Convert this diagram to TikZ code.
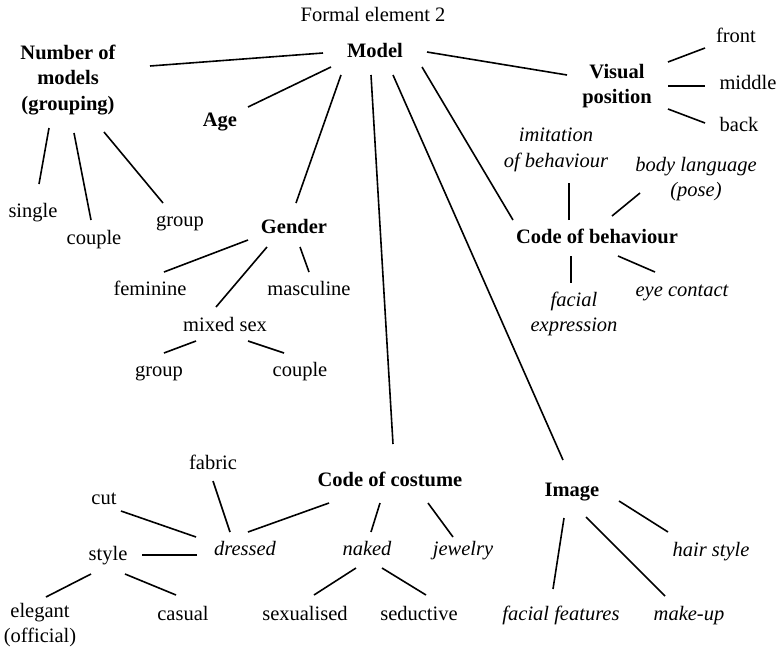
\documentclass[tikz,border=0pt]{standalone}
\usepackage{fontspec}
\setmainfont{Liberation Serif}
\usepackage{tikz}
\usetikzlibrary{calc}
\usetikzlibrary{positioning}

\tikzset{
	elem/.style={inner sep=0pt, text height=14pt, text depth=5pt, font=\fontsize{20.5}{25.5}\selectfont},
	elemb/.style={elem, font=\fontsize{20.5}{25.5}\selectfont\bfseries},
	elemi/.style={elem, font=\fontsize{20.5}{25.5}\selectfont\itshape},
	multi/.style={inner sep=0pt, align=center, font=\fontsize{20.5}{25.5}\selectfont},
	multib/.style={multi, font=\fontsize{20.5}{25.5}\selectfont\bfseries},
	multii/.style={multi, font=\fontsize{20.5}{25.5}\selectfont\itshape},
	link/.style={line width=1.6pt}
}

\begin{document}
\begin{tikzpicture}[x=1pt, y=-1pt]

	\useasboundingbox (0,0) rectangle (779,651);

	% title and root
	\node(title) [elem] at (373,17) {Formal element 2};
	\node(model) [elemb] at (375,53) {Model};

	% number of models
	\node(number) [multib] at (68,80) {Number of\\models\\(grouping)};
	\node(single) [elem] at (33,213) {single};
	\node(couplea) [elem] at (94,240) {couple};
	\node(groupa) [elem] at (180,222) {group};

	\node(age) [elemb] at (220,122) {Age};

	% gender
	\node(gender) [elemb] at (294,229) {Gender};
	\node(feminine) [elem] at (150,291) {feminine};
	\node(masculine) [elem] at (309,291) {masculine};
	\node(mixed) [elem] at (225,327) {mixed sex};
	\node(groupb) [elem] at (159,372) {group};
	\node(coupleb) [elem] at (300,372) {couple};

	% visual position
	\node(visual) [multib] at (617,86) {Visual\\position};
	\node(front) [elem] at (736,38) {front};
	\node(middle) [elem] at (748,85) {middle};
	\node(back) [elem] at (739,127) {back};

	% code of behaviour
	\node(behaviour) [elemb] at (597,239) {Code of behaviour};
	\node(imitation) [multii] at (556,150) {imitation\\of behaviour};
	\node(body) [multii] at (696,179) {body language\\(pose)};
	\node(facialexp) [multii] at (574,314) {facial\\expression};
	\node(eye) [elemi] at (682,292) {eye contact};

	% code of costume
	\node(costume) [elemb] at (390,482) {Code of costume};
	\node(fabric) [elem] at (213,465) {fabric};
	\node(cut) [elem] at (104,500) {cut};
	\node(dressed) [elemi] at (245,551) {dressed};
	\node(style) [elem] at (108,556) {style};
	\node(naked) [elemi] at (367,551) {naked};
	\node(jewelry) [elemi] at (463,551) {jewelry};
	\node(elegant) [multi] at (40,625) {elegant\\(official)};
	\node(casual) [elem] at (183,616) {casual};
	\node(sexualised) [elem] at (305,616) {sexualised};
	\node(seductive) [elem] at (419,616) {seductive};

	% image
	\node(image) [elemb] at (572,492) {Image};
	\node(hair) [elemi] at (711,552) {hair style};
	\node(features) [elemi] at (561,616) {facial features};
	\node(makeup) [elemi] at (689,616) {make-up};

	% connectors from the root
	\draw [link] ($(model)+(-52,0)$) -- ($(number)+(82,-14)$);
	\draw [link] ($(model)+(-44,14)$) -- ($(age)+(28,-15)$);
	\draw [link] ($(model)+(-34,22)$) -- ($(gender)+(2,-26)$);
	\draw [link] ($(model)+(-4,22)$) -- ($(costume)+(3,-38)$);
	\draw [link] ($(model)+(18,22)$) -- ($(image)+(-9,-32)$);
	\draw [link] ($(model)+(47,14)$) -- ($(behaviour)+(-84,-19)$);
	\draw [link] ($(model)+(52,-1)$) -- ($(visual)+(-50,-11)$);

	\draw [link] ($(visual)+(51,-24)$) -- ($(front)+(-31,10)$);
	\draw [link] ($(visual)+(51,0)$) -- ($(middle)+(-43,1)$);
	\draw [link] ($(visual)+(51,23)$) -- ($(back)+(-34,-4)$);

	\draw [link] ($(number)+(-19,48)$) -- ($(single)+(6,-29)$);
	\draw [link] ($(number)+(6,53)$) -- ($(couplea)+(-3,-20)$);
	\draw [link] ($(number)+(36,52)$) -- ($(groupa)+(-17,-19)$);

	\draw [link] ($(gender)+(-46,11)$) -- ($(feminine)+(14,-19)$);
	\draw [link] ($(gender)+(-27,18)$) -- ($(mixed)+(-9,-20)$);
	\draw [link] ($(gender)+(6,18)$) -- ($(masculine)+(0,-19)$);
	\draw [link] ($(mixed)+(-29,14)$) -- ($(groupb)+(5,-19)$);
	\draw [link] ($(mixed)+(23,14)$) -- ($(coupleb)+(-16,-19)$);

	\draw [link] ($(behaviour)+(-28,-19)$) -- ($(imitation)+(13,33)$);
	\draw [link] ($(behaviour)+(15,-23)$) -- ($(body)+(-56,14)$);
	\draw [link] ($(behaviour)+(-26,17)$) -- ($(facialexp)+(-3,-31)$);
	\draw [link] ($(behaviour)+(21,17)$) -- ($(eye)+(-27,-20)$);

	\draw [link] ($(costume)+(-61,21)$) -- ($(dressed)+(3,-19)$);
	\draw [link] ($(costume)+(-10,21)$) -- ($(naked)+(4,-19)$);
	\draw [link] ($(costume)+(38,21)$) -- ($(jewelry)+(-10,-14)$);
	\draw [link] ($(dressed)+(-49,-14)$) -- ($(cut)+(17,11)$);
	\draw [link] ($(dressed)+(-15,-19)$) -- ($(fabric)+(0,16)$);
	\draw [link] ($(dressed)+(-48,4)$) -- ($(style)+(34,-1)$);
	\draw [link] ($(style)+(-17,18)$) -- ($(elegant)+(6,-28)$);
	\draw [link] ($(style)+(17,18)$) -- ($(casual)+(-7,-21)$);
	\draw [link] ($(naked)+(-11,17)$) -- ($(sexualised)+(9,-21)$);
	\draw [link] ($(naked)+(15,17)$) -- ($(seductive)+(7,-21)$);

	\draw [link] ($(image)+(47,9)$) -- ($(hair)+(-43,-20)$);
	\draw [link] ($(image)+(-8,26)$) -- ($(features)+(-8,-27)$);
	\draw [link] ($(image)+(14,25)$) -- ($(makeup)+(-24,-20)$);

\end{tikzpicture}
\end{document}
